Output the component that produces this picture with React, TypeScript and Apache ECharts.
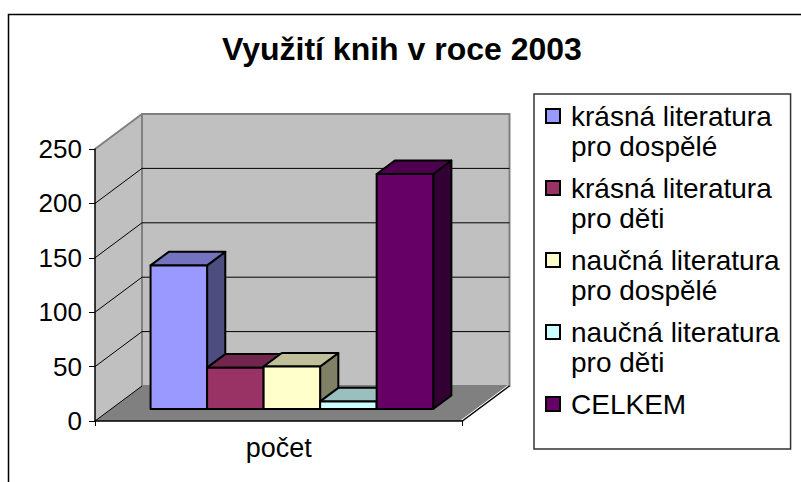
import React, { useEffect, useRef } from 'react';
import * as echarts from 'echarts';

const TITLE = 'Využití knih v roce 2003';
const CATEGORIES = ['počet'];
const SERIES_NAMES = [
  'krásná literatura pro dospělé',
  'krásná literatura pro děti',
  'naučná literatura pro dospělé',
  'naučná literatura pro děti',
  'CELKEM',
];
const SERIES_VALUES = [132, 38, 39, 7, 216];
const SERIES_COLORS = ['#9999FF', '#993366', '#FFFFCC', '#CCFFFF', '#660066'];
const Y_TICKS = [0, 50, 100, 150, 200, 250];

const FONT = "'Liberation Sans', Arial, Helvetica, sans-serif";
const DEPTH = [47, -35];
const F_FRONT = 0.343;
const F_BACK = 0.73;
const BAR_SPAN = 0.769;
const BAR_SHIFT = -3;

// legend icon: a 14px square at the top of a 20x44 box, level with the first text line
const LEGEND_ICON = 'path://M0,0h14v14h-14z M20,44';

function shade(hex: string, k: number): string {
  const n = parseInt(hex.slice(1), 16);
  const r = Math.round(((n >> 16) & 255) * k);
  const g = Math.round(((n >> 8) & 255) * k);
  const b = Math.round((n & 255) * k);
  return 'rgb(' + r + ',' + g + ',' + b + ')';
}

function wallsRender(params: any, api: any) {
  const band = api.size([1, 0], [0, 0])[0];
  const c = api.coord([0, 0]);
  const xL = c[0] - band / 2;
  const xR = c[0] + band / 2;
  const yB = c[1];
  const yT = api.coord([0, Y_TICKS[Y_TICKS.length - 1]])[1];
  const dx = DEPTH[0];
  const dy = DEPTH[1];
  const children: any[] = [];
  children.push({
    type: 'polygon',
    shape: { points: [[xL, yB], [xL, yT], [xL + dx, yT + dy], [xL + dx, yB + dy]] },
    style: { fill: '#C0C0C0', stroke: 'none' },
  });
  children.push({
    type: 'polygon',
    shape: { points: [[xL, yB], [xR, yB], [xR + dx, yB + dy], [xL + dx, yB + dy]] },
    style: { fill: '#808080', stroke: 'none' },
  });
  children.push({
    type: 'polygon',
    shape: { points: [[xL + dx, yT + dy], [xR + dx, yT + dy], [xR + dx, yB + dy], [xL + dx, yB + dy]] },
    style: { fill: '#C0C0C0', stroke: '#808080', lineWidth: 2 },
  });
  Y_TICKS.forEach((t, idx) => {
    const y = api.coord([0, t])[1];
    if (idx < Y_TICKS.length - 1) {
      children.push({
        type: 'line',
        shape: { x1: xL, y1: y, x2: xL + dx, y2: y + dy },
        style: { stroke: '#000', lineWidth: 1 },
      });
    }
    if (idx > 0 && idx < Y_TICKS.length - 1) {
      children.push({
        type: 'line',
        shape: { x1: xL + dx, y1: y + dy, x2: xR + dx, y2: y + dy },
        style: { stroke: '#000', lineWidth: 1 },
      });
    }
  });
  children.push({
    type: 'line',
    shape: { x1: xL, y1: yT, x2: xL + dx, y2: yT + dy },
    style: { stroke: '#808080', lineWidth: 2 },
  });
  children.push({
    type: 'line',
    shape: { x1: xR - 1.5, y1: yB - 0.5, x2: xR + dx - 1.5, y2: yB + dy - 0.5 },
    style: { stroke: '#FFFFFF', lineWidth: 1 },
  });
  children.push({
    type: 'line',
    shape: { x1: xR, y1: yB, x2: xR + dx, y2: yB + dy },
    style: { stroke: '#000', lineWidth: 1.2 },
  });
  return { type: 'group', children };
}

function makeBarRender(i: number) {
  return (params: any, api: any) => {
    const cat = api.value(0);
    const v = api.value(1);
    const base = api.coord([cat, 0]);
    const top = api.coord([cat, v]);
    const band = api.size([1, 0], [cat, 0])[0];
    const n = SERIES_VALUES.length;
    const w = (band * BAR_SPAN) / n;
    const xl = base[0] - (band * BAR_SPAN) / 2 + i * w + BAR_SHIFT;
    const fx = DEPTH[0] * F_FRONT;
    const fy = DEPTH[1] * F_FRONT;
    const bx = DEPTH[0] * (F_BACK - F_FRONT);
    const by = DEPTH[1] * (F_BACK - F_FRONT);
    const L = xl + fx;
    const R = xl + w + fx;
    const y0 = base[1] + fy;
    const y1 = top[1] + fy;
    const color = SERIES_COLORS[i];
    const line = { stroke: '#000', lineWidth: 2, lineJoin: 'round' };
    return {
      type: 'group',
      children: [
        {
          type: 'polygon',
          shape: { points: [[R, y0], [R + bx, y0 + by], [R + bx, y1 + by], [R, y1]] },
          style: { fill: shade(color, 0.5), ...line },
        },
        {
          type: 'polygon',
          shape: { points: [[L, y1], [R, y1], [R + bx, y1 + by], [L + bx, y1 + by]] },
          style: { fill: shade(color, 0.75), ...line },
        },
        {
          type: 'polygon',
          shape: { points: [[L, y0], [R, y0], [R, y1], [L, y1]] },
          style: { fill: color, ...line },
        },
      ],
    };
  };
}

export default function App() {
  const ref = useRef<HTMLDivElement>(null);
  useEffect(() => {
    document.body.style.margin = '0';
    if (!ref.current) return;
    const chart = echarts.init(ref.current, undefined, { renderer: 'svg' });
    const series: any[] = [
      {
        type: 'custom',
        name: 'walls',
        data: [[0, 0]],
        renderItem: wallsRender,
        silent: true,
        z: 1,
      },
    ];
    SERIES_NAMES.forEach((name, i) => {
      series.push({
        type: 'custom',
        name,
        data: [[0, SERIES_VALUES[i]]],
        renderItem: makeBarRender(i),
        itemStyle: { color: SERIES_COLORS[i] },
        z: 2,
      });
    });
    chart.setOption({
      animation: false,
      backgroundColor: '#fff',
      title: {
        text: TITLE,
        left: 222,
        top: 33,
        padding: 0,
        textStyle: { fontFamily: FONT, fontSize: 32, fontWeight: 'bold', color: '#000' },
      },
      legend: {
        orient: 'vertical',
        left: 534,
        top: 94,
        itemWidth: 20,
        itemHeight: 44,
        itemGap: 12,
        selectedMode: false,
        borderColor: '#333',
        borderWidth: 1.5,
        padding: [7, 11, 0, 11],
        icon: LEGEND_ICON,
        itemStyle: { borderColor: '#000', borderWidth: 2 },
        formatter: (name: string) =>
          name.indexOf(' pro ') >= 0 ? name.replace(' pro ', '\npro ') : name + '\n ',
        textStyle: {
          fontFamily: FONT,
          fontSize: 28,
          lineHeight: 30,
          color: '#000',
        },
        data: SERIES_NAMES,
      },
      graphic: [
        {
          type: 'rect',
          shape: { x: 8.5, y: 14.5, width: 900, height: 600 },
          style: { fill: 'none', stroke: '#000', lineWidth: 1.5 },
          silent: true,
        },
      ],
      grid: { left: 95, right: 338.5, top: 149, bottom: 61 },
      xAxis: {
        type: 'category',
        data: CATEGORIES,
        z: 10,
        axisLine: { show: true, lineStyle: { color: '#000', width: 1.5 } },
        axisTick: { show: true, length: 5, lineStyle: { color: '#000', width: 1 } },
        axisLabel: { fontFamily: FONT, fontSize: 27, color: '#000', margin: 13 },
        splitLine: { show: false },
      },
      yAxis: {
        type: 'value',
        min: 0,
        max: Y_TICKS[Y_TICKS.length - 1],
        interval: 50,
        z: 10,
        axisLine: { show: true, lineStyle: { color: '#000', width: 1.5 } },
        axisTick: { show: true, length: 6, lineStyle: { color: '#000', width: 1 } },
        axisLabel: { fontFamily: FONT, fontSize: 26, color: '#000', margin: 13 },
        splitLine: { show: false },
      },
      series,
    });
    return () => chart.dispose();
  }, []);
  return <div ref={ref} style={{ width: 801, height: 482 }} />;
}
